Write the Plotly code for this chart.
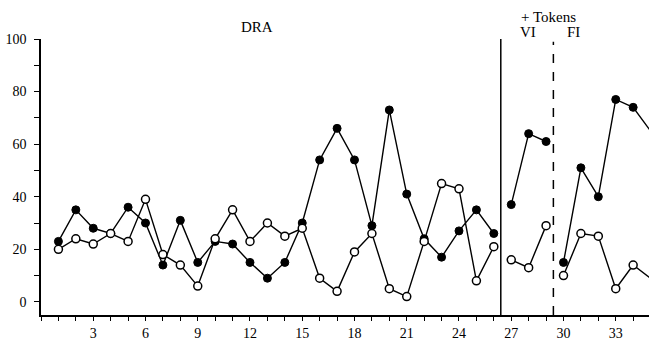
import plotly.graph_objects as go

# Sessions and percentage values for the two measures
sessions = list(range(1, 36))
filled_values = [23, 35, 28, 26, 36, 30, 14, 31, 15, 23,
                 22, 15, 9, 15, 30, 54, 66, 54, 29, 73,
                 41, 24, 17, 27, 35, 26, 37, 64, 61, 15,
                 51, 40, 77, 74, 65]
open_values = [20, 24, 22, 26, 23, 39, 18, 14, 6, 24,
               35, 23, 30, 25, 28, 9, 4, 19, 26, 5,
               2, 23, 45, 43, 8, 21, 16, 13, 29, 10,
               26, 25, 5, 14, 9]

# Phases: (first session, last session)
phases = [(1, 26), (27, 29), (30, 35)]
phase_lines = [26.4, 29.42]
y_ticks = [0, 20, 40, 60, 80, 100]
x_tick_labels = [3, 6, 9, 12, 15, 18, 21, 24, 27, 30, 33]

FONT = "Liberation Serif"
INK = "#000000"

fig = go.Figure()

for start, end in phases:
    xs = sessions[start - 1:end]
    fig.add_trace(go.Scatter(
        x=xs, y=filled_values[start - 1:end], mode="lines+markers",
        line=dict(color=INK, width=1.4),
        marker=dict(symbol="circle", size=8, color=INK,
                    line=dict(color=INK, width=1)),
        cliponaxis=False, showlegend=False))
    fig.add_trace(go.Scatter(
        x=xs, y=open_values[start - 1:end], mode="lines+markers",
        line=dict(color=INK, width=1.4),
        marker=dict(symbol="circle", size=8, color="white",
                    line=dict(color=INK, width=1.5)),
        cliponaxis=False, showlegend=False))

# Phase change lines
fig.add_shape(type="line", xref="x", yref="paper", x0=phase_lines[0], x1=phase_lines[0],
              y0=0, y1=1.0, line=dict(color=INK, width=1.5))
fig.add_shape(type="line", xref="x", yref="paper", x0=phase_lines[1], x1=phase_lines[1],
              y0=0, y1=0.99, line=dict(color=INK, width=1.5, dash="dash"))

# Phase labels
labels = [
    ("DRA", 256.5, 27),
    ("+ Tokens", 548, 17),
    ("VI", 528, 32),
    ("FI", 573.5, 32),
]
for text, px, py in labels:
    fig.add_annotation(text=text, xref="paper", yref="paper",
                       x=(px - 41) / 608, y=(319.3 - py) / 280.3,
                       xanchor="center", yanchor="middle", showarrow=False,
                       font=dict(family=FONT, size=15, color=INK))

fig.update_xaxes(
    range=[0, 34.91], tickmode="array", tickvals=x_tick_labels,
    ticktext=[str(v) for v in x_tick_labels],
    ticks="outside", ticklen=4, tickwidth=1.2, tickcolor=INK,
    minor=dict(tickmode="linear", tick0=0, dtick=1, ticks="outside",
               ticklen=4, tickwidth=1.2, tickcolor=INK),
    showline=True, linecolor=INK, linewidth=1.5,
    showgrid=False, zeroline=False,
    tickfont=dict(family=FONT, size=14, color=INK))

fig.update_yaxes(
    range=[-5, 100], tickmode="array", tickvals=y_ticks,
    ticks="outside", ticklen=5, tickwidth=1.2, tickcolor=INK,
    minor=dict(tickmode="linear", tick0=0, dtick=10, ticks="outside",
               ticklen=5, tickwidth=1.2, tickcolor=INK),
    showline=True, linecolor=INK, linewidth=1.5,
    showgrid=False, zeroline=False, ticklabelstandoff=5,
    tickfont=dict(family=FONT, size=14, color=INK))

fig.update_layout(
    width=649, height=341,
    margin=dict(l=41, r=0, t=39, b=22),
    plot_bgcolor="white", paper_bgcolor="white",
)

fig.write_html("out.html")
